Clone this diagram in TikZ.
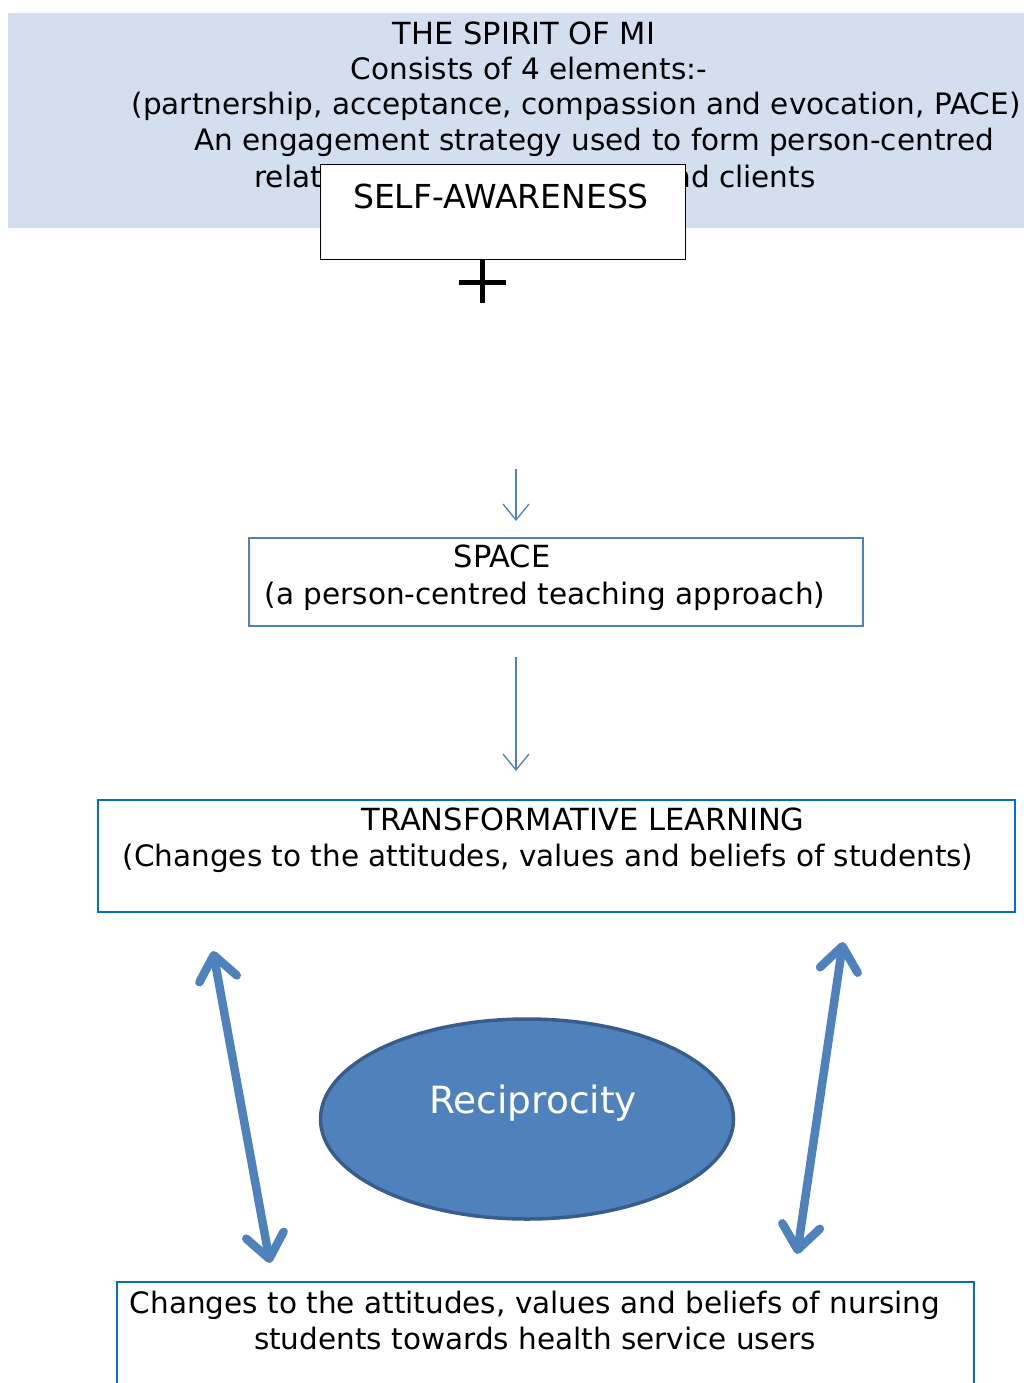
\documentclass[tikz,border=0pt]{standalone}
\usepackage{fontspec}
\setmainfont{DejaVu Sans}
\usetikzlibrary{arrows.meta,shapes.geometric}

\definecolor{mibg}{RGB}{211,223,238}
\definecolor{miblue}{RGB}{79,129,189}
\definecolor{midark}{RGB}{56,93,138}
\definecolor{boxblue}{RGB}{0,112,192}

\tikzset{
  txt/.style={anchor=base,inner sep=0pt,font=\fontsize{29.5}{36}\selectfont},
  capstxt/.style={txt,font=\fontsize{30.5}{36}\selectfont},
  frame/.style={draw,line width=#1,inner sep=0pt},
  thinarrow/.style={draw=miblue,line width=1.3pt,-{Straight Barb[length=16pt,width=26pt]}},
  fatarrow/.style={draw=miblue,line width=8.5pt,{Straight Barb[length=24pt,width=38pt,round]}-{Straight Barb[length=24pt,width=38pt,round]}}
}

\begin{document}
\begin{tikzpicture}[x=1pt,y=-1pt]
\useasboundingbox (0,0) rectangle (1024,1383);
\clip (0,0) rectangle (1024,1383);

% spirit of MI banner
\fill[mibg] (8,13) rectangle (1024,228);
\node[capstxt] (spirit1) at (524,45) {THE SPIRIT OF MI};
\node[txt] (spirit2) at (529,80) {Consists of 4 elements:-};
\node[txt] (spirit3) at (576,115) {(partnership, acceptance, compassion and evocation, PACE)};
\node[txt] (spirit4) at (594,151) {An engagement strategy used to form person-centred};
\node[txt] (spirit5) at (535,187) {relationships with patients and clients};

% self-awareness and the plus
\node[frame=1pt,draw=black,fill=white,minimum width=365pt,minimum height=94pt] (selfaw) at (502.5,212) {};
\node[txt,font=\fontsize{33}{38}\selectfont] (selftxt) at (501,208) {SELF-AWARENESS};
\draw[line width=5pt] (482,259) -- (482,303);
\draw[line width=5pt] (459,282) -- (506,282);

% SPACE
\coordinate (a1top) at (516,469);
\coordinate (a1tip) at (516,521);
\draw[thinarrow] (a1top) -- (a1tip);
\node[frame=2pt,draw=miblue,minimum width=614pt,minimum height=88pt] (space) at (556,582) {};
\node[capstxt] (spacetxt1) at (502,567) {SPACE};
\node[txt] (spacetxt2) at (545,604) {(a person-centred teaching approach)};

% transformative learning
\coordinate (a2top) at (516,657);
\coordinate (a2tip) at (516,771);
\draw[thinarrow] (a2top) -- (a2tip);
\node[frame=1.6pt,draw=boxblue,minimum width=917pt,minimum height=112pt] (translearn) at (556.5,856) {};
\node[capstxt] (transtxt1) at (583,830) {TRANSFORMATIVE LEARNING};
\node[txt] (transtxt2) at (548,866) {(Changes to the attitudes, values and beliefs of students)};

% reciprocity
\node[ellipse,draw=midark,fill=miblue,line width=3.5pt,minimum width=413pt,minimum height=200pt] (recip) at (527,1119) {};
\node[txt,text=white,font=\fontsize{37.5}{44}\selectfont] (reciptxt) at (533,1113) {Reciprocity};
\coordinate (ltop) at (213,951);
\coordinate (lbot) at (270,1263);
\coordinate (rtop) at (843,942);
\coordinate (rbot) at (797,1254);
\draw[fatarrow] (ltop) -- (lbot);
\draw[fatarrow] (rtop) -- (rbot);

% nursing students
\node[frame=1.6pt,draw=boxblue,minimum width=857pt,minimum height=140pt] (nursing) at (545.5,1352) {};
\node[txt] (nursetxt1) at (535,1313) {Changes to the attitudes, values and beliefs of nursing};
\node[txt] (nursetxt2) at (535,1349) {students towards health service users};
\end{tikzpicture}
\end{document}
